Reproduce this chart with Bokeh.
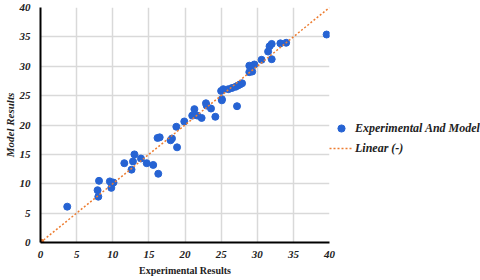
from bokeh.plotting import figure
from bokeh.models import Legend, LegendItem, Range1d, FixedTicker
from bokeh.embed import file_html
from bokeh.resources import INLINE

# Data
experimental = [3.7, 7.9, 8.0, 8.1, 9.6, 9.8, 10.1, 11.6, 12.6, 12.8, 13.0, 13.9, 14.7,
                15.6, 16.3, 16.2, 16.5, 18.0, 18.2, 18.9, 18.8, 19.9, 21.0, 21.3, 21.7,
                22.3, 22.9, 23.0, 23.6, 24.2, 25.1, 25.1, 25.0, 25.3, 26.0, 26.5, 27.0,
                27.2, 27.3, 27.6, 27.9, 28.9, 29.3, 28.9, 29.6, 30.6, 31.5, 31.7, 32.0,
                32.0, 33.2, 34.0, 39.6]
model = [6.1, 8.9, 7.8, 10.5, 10.4, 9.3, 10.2, 13.5, 12.4, 13.8, 15.0, 14.3, 13.5,
         13.2, 11.7, 17.8, 17.9, 17.4, 17.7, 16.2, 19.7, 20.6, 21.6, 22.7, 21.6,
         21.2, 23.7, 23.3, 22.8, 21.4, 24.4, 24.2, 25.8, 26.1, 26.1, 26.3, 26.5,
         23.2, 26.7, 26.9, 27.1, 29.0, 29.1, 30.1, 30.3, 31.1, 32.5, 33.4, 33.8,
         31.2, 33.9, 34.0, 35.4]
linear_x = [0, 40]
linear_y = [0, 40]
origin_x = [0]
origin_y = [0]
ticks = [0, 5, 10, 15, 20, 25, 30, 35, 40]

FONT = "Liberation Serif"
BLUE = "#2663D3"
ORANGE = "#ED7D31"

p = figure(frame_width=289, frame_height=235, x_range=Range1d(0, 40), y_range=Range1d(0, 40),
           output_backend="svg", toolbar_location=None,
           min_border_top=7, min_border_left=0, min_border_bottom=0, min_border_right=0)
p.outline_line_color = None
p.background_fill_color = "white"

for ax in (p.xaxis, p.yaxis):
    ax.ticker = FixedTicker(ticks=ticks)
    ax.axis_line_color = "black"
    ax.axis_line_width = 2
    ax.major_tick_line_color = None
    ax.minor_tick_line_color = None
    ax.major_label_text_font = FONT
    ax.major_label_text_font_style = "bold italic"
    ax.major_label_text_font_size = "11px"
    ax.major_label_text_color = "#222222"
    ax.axis_label_text_font = FONT
    ax.axis_label_text_color = "#222222"

p.xaxis.axis_label = "Experimental Results"
p.xaxis.axis_label_text_font_style = "bold"
p.xaxis.axis_label_text_font_size = "10px"
p.yaxis.axis_label = "Model Results"
p.yaxis.axis_label_text_font_style = "bold italic"
p.yaxis.axis_label_text_font_size = "11px"
p.yaxis.major_label_standoff = 4
p.yaxis.axis_label_standoff = 1
p.xaxis.major_label_standoff = 2
p.xaxis.axis_label_standoff = 4

p.grid.grid_line_color = "#d9d9d9"
p.grid.grid_line_width = 1.5
p.xgrid.ticker = FixedTicker(ticks=ticks)
p.ygrid.ticker = FixedTicker(ticks=ticks)

pts = p.scatter(experimental, model, size=7, color=BLUE)
ln = p.line(linear_x, linear_y, line_color=ORANGE, line_width=1.5, line_dash="2 2")
p.scatter(origin_x, origin_y, size=7, color=ORANGE)

legend = Legend(items=[LegendItem(label="Experimental And Model", renderers=[pts]),
                       LegendItem(label="Linear (-)", renderers=[ln])],
                location=(0, 85))
legend.label_text_font = FONT
legend.label_text_font_style = "bold italic"
legend.label_text_font_size = "12px"
legend.label_text_color = "#222222"
legend.border_line_color = None
legend.background_fill_alpha = 0
legend.glyph_width = 24
legend.label_height = 18
legend.glyph_height = 18
legend.label_standoff = 2
legend.spacing = 2
legend.padding = 2
legend.margin = 0
p.add_layout(legend, "right")

open("out.html", "w").write(file_html(p, INLINE))
